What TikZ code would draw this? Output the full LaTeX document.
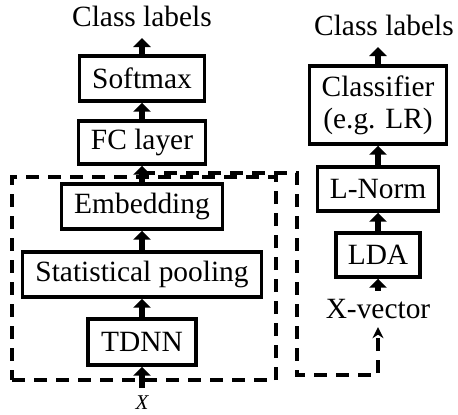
\documentclass[tikz,border=0pt]{standalone}
\usepackage{fontspec}
\setmainfont{Liberation Serif}
\usetikzlibrary{arrows.meta}

\begin{document}
\begin{tikzpicture}[x=0.5pt,y=-0.5pt]
  \tikzstyle{every node}+=[inner sep=0pt,font=\fontsize{14.7pt}{17pt}\selectfont]
  \tikzstyle{box}=[draw=black,line width=1.7pt]
  \tikzstyle{lbl}=[inner ysep=5.5pt]
  \tikzstyle{fat}=[black,line width=3.4pt,-{Triangle[width=8.5pt,length=4.5pt]}]
  \tikzstyle{dashline}=[black,line width=1.6pt,dash pattern=on 6.5pt off 4.5pt]
  \useasboundingbox (0,0) rectangle (458,414);
  \node [box,dashline,minimum width=132pt,minimum height=101.5pt] (xvbox) at (144,278.5) {};
  \node [box,minimum width=62.5pt,minimum height=22.5pt] (softmax) at (142,78.5) {Softmax};
  \node [box,minimum width=63.5pt,minimum height=21.5pt] (fc) at (142,142.5) {FC layer};
  \node [box,minimum width=80.5pt,minimum height=22.5pt] (emb) at (142,206.5) {Embedding};
  \node [box,minimum width=119.5pt,minimum height=22.5pt] (pool) at (142,274.5) {Statistical pooling};
  \node [box,minimum width=54pt,minimum height=23pt] (tdnn) at (142,342) {TDNN};
  \node [lbl,anchor=south] (cls1) at (142,38) {Class labels};
  \node [anchor=north,font=\fontsize{10.5pt}{12pt}\selectfont\itshape] (xin) at (142,395) {X};
  \node [box,align=center,minimum width=68.5pt,minimum height=39pt] (clf) at (378,105) {Classifier\\[-1pt](e.g. LR)};
  \node [box,minimum width=60.5pt,minimum height=22pt] (lnorm) at (378,189) {L-Norm};
  \node [box,minimum width=42pt,minimum height=22pt] (lda) at (378,255) {LDA};
  \node [lbl,anchor=south] (cls2) at (384,47) {Class labels};
  \node [inner ysep=4pt] (xvec) at (378,309) {X-vector};
  \coordinate (tap) at (142,173);
  \coordinate (bend) at (297,375);
  \draw [fat] (softmax.north) -- (cls1.south);
  \draw [fat] (fc.north) -- (softmax.south);
  \draw [fat] (emb.north) -- (fc.south);
  \draw [fat] (pool.north) -- (emb.south);
  \draw [fat] (tdnn.north) -- (pool.south);
  \draw [fat,shorten <=3.5pt] (xin.north) -- (tdnn.south);
  \draw [fat] (clf.north) -- (clf.north |- cls2.south);
  \draw [fat] (lnorm.north) -- (clf.south);
  \draw [fat] (lda.north) -- (lnorm.south);
  \draw [fat] (xvec.north) -- (lda.south);
  \draw [dashline,-{Stealth[width=5.5pt,length=5.5pt]}] (tap) -| (bend) -| (xvec.south);
\end{tikzpicture}
\end{document}
